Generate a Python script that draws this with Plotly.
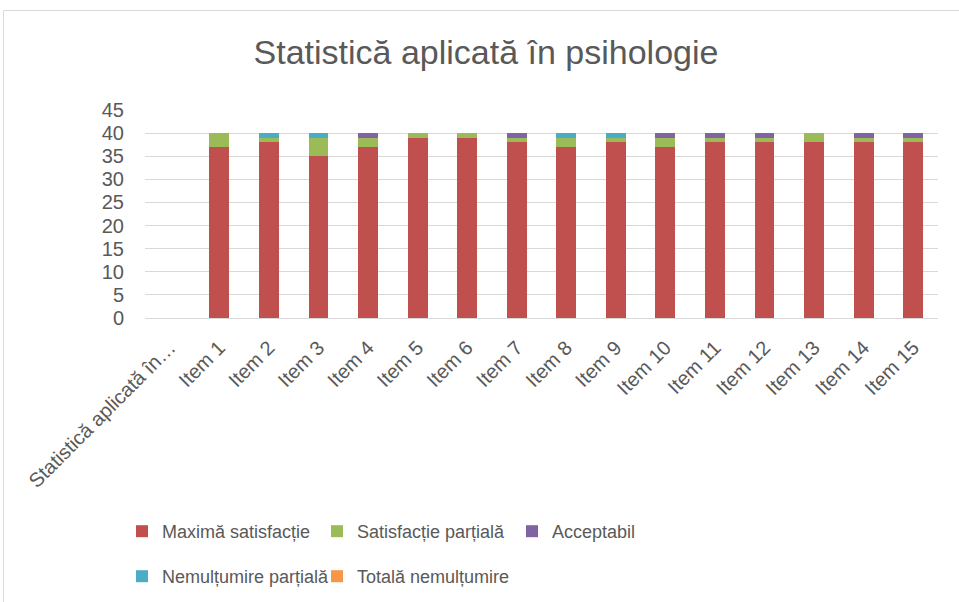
import plotly.graph_objects as go

categories = ["Statistică aplicată în psihologie"] + [f"Item {i}" for i in range(1, 16)]
tick_labels = ["Statistică aplicată în…"] + [f"Item {i}" for i in range(1, 16)]

maxima = [None, 37, 38, 35, 37, 39, 39, 38, 37, 38, 37, 38, 38, 38, 38, 38]
partiala = [None, 3, 1, 4, 2, 1, 1, 1, 2, 1, 2, 1, 1, 2, 1, 1]
acceptabil = [None, 0, 0, 0, 1, 0, 0, 1, 0, 0, 1, 1, 1, 0, 1, 1]
nemultumire_partiala = [None, 0, 1, 1, 0, 0, 0, 0, 1, 1, 0, 0, 0, 0, 0, 0]
totala = [None, 0, 0, 0, 0, 0, 0, 0, 0, 0, 0, 0, 0, 0, 0, 0]

series = [
    ("Maximă satisfacție", maxima, "#C0504D", "legend"),
    ("Satisfacție parțială", partiala, "#9BBB59", "legend"),
    ("Acceptabil", acceptabil, "#8064A2", "legend"),
    ("Nemulțumire parțială", nemultumire_partiala, "#4BACC6", "legend2"),
    ("Totală nemulțumire", totala, "#F79646", "legend2"),
]

FONT = "Liberation Sans"
GREY = "#595959"

L, R, T, B = 145, 21, 110, 284
W, H = 959, 602
pw, ph = W - L - R, H - T - B
y_axis_px = H - B

fig = go.Figure()
for name, vals, col, leg in series:
    fig.add_trace(go.Bar(x=categories, y=vals, name=name, marker_color=col,
                         marker_line_width=0, width=0.40, legend=leg))

leg_common = dict(orientation="h", xanchor="left", yanchor="top",
                  entrywidth=150, traceorder="normal",
                  font=dict(family=FONT, size=18, color=GREY), itemwidth=30,
                  bgcolor="rgba(0,0,0,0)")

fig.update_layout(
    width=W, height=H,
    barmode="stack",
    plot_bgcolor="white", paper_bgcolor="white",
    margin=dict(l=L, r=R, t=T, b=B, autoexpand=False),
    title=dict(text="Statistică aplicată în psihologie", xref="paper",
               x=(486 - L) / pw, xanchor="center",
               y=0.913, yanchor="middle", font=dict(family=FONT, size=34, color=GREY)),
    font=dict(family=FONT, size=20, color=GREY),
    xaxis=dict(categoryorder="array", categoryarray=categories,
               tickmode="array", tickvals=categories, ticktext=tick_labels,
               tickangle=-45, showline=True, linecolor="#d9d9d9", linewidth=1,
               ticks="", tickfont=dict(size=20, color=GREY), showgrid=False,
               ticklabelstandoff=9),
    yaxis=dict(range=[0, 45], dtick=5, tick0=0, showgrid=True, gridcolor="#d9d9d9",
               gridwidth=1, zeroline=False, ticks="", showline=False,
               tickfont=dict(size=20, color=GREY), ticklabelstandoff=20),
    legend=dict(x=-0.029, y=(y_axis_px - 513) / ph, **leg_common),
    legend2=dict(x=-0.029, y=(y_axis_px - 558) / ph, **leg_common),
    shapes=[dict(type="rect", xref="paper", yref="paper",
                 x0=(3.5 - L) / pw, x1=(975 - L) / pw,
                 y0=(y_axis_px - 620) / ph, y1=(y_axis_px - 10.5) / ph,
                 line=dict(color="#d9d9d9", width=1), fillcolor="rgba(0,0,0,0)",
                 layer="below")],
)

fig.write_html("out.html", config={"displayModeBar": False},
               post_script="document.body.style.margin='0';")
